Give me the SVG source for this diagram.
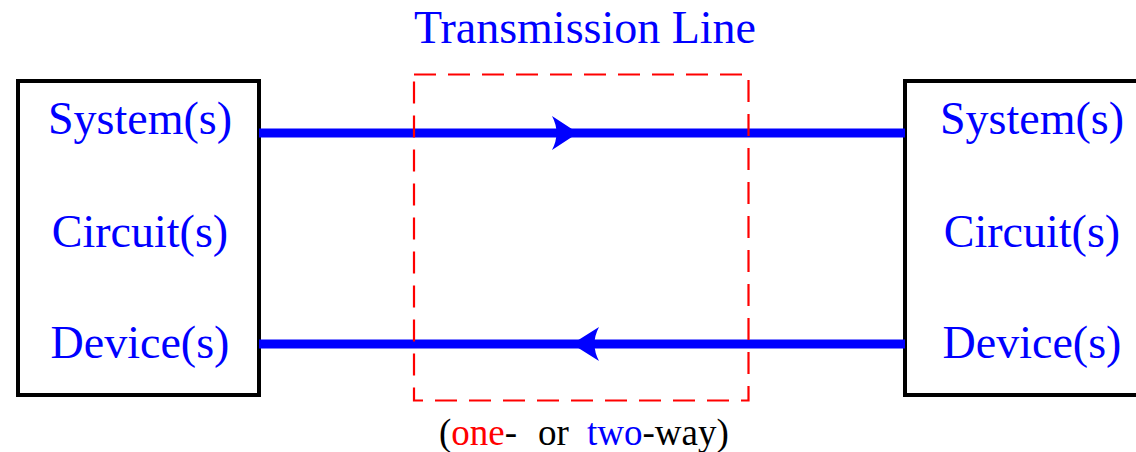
<svg xmlns="http://www.w3.org/2000/svg" width="1136" height="452" viewBox="0 0 1136 452">
<style>
.box{fill:#fff;stroke:#000;stroke-width:4}
.lbl{font-family:"Liberation Serif","Times New Roman",serif;font-size:46px;fill:#0000ff;text-anchor:middle}
.wire{stroke:#0000ff;stroke-width:9;fill:none}
.arr{fill:#0000ff}
.tl{fill:none;stroke:#ff0000;stroke-width:2.2;stroke-dasharray:22 12}
.note{font-family:"Liberation Serif","Times New Roman",serif;font-size:37px;fill:#000}
</style>
<rect width="1136" height="452" fill="#fff"/>
<g id="left-node">
<rect class="box" x="18" y="81" width="241" height="314"/>
<text class="lbl" x="140" y="134">System(s)</text>
<text class="lbl" x="140" y="247">Circuit(s)</text>
<text class="lbl" x="140" y="358">Device(s)</text>
</g>
<g id="right-node">
<rect class="box" x="905" y="81" width="260" height="314"/>
<text class="lbl" x="1032" y="134">System(s)</text>
<text class="lbl" x="1032" y="247">Circuit(s)</text>
<text class="lbl" x="1032" y="358">Device(s)</text>
</g>
<g id="connectors">
<line class="wire" x1="259" y1="133" x2="905" y2="133"/>
<path class="arr" d="M578,133 L552,116 Q561,133 552,150 Z"/>
<line class="wire" x1="259" y1="344" x2="905" y2="344"/>
<path class="arr" d="M572,344 L599,327 Q590,344 599,361 Z"/>
</g>
<g id="transmission-line">
<rect class="tl" x="414" y="74.5" width="334.5" height="326"/>
<text class="lbl" x="585" y="43">Transmission Line</text>
<text class="note" y="445"><tspan x="439">(</tspan><tspan x="451.3" fill="#ff0000">one</tspan><tspan>-</tspan><tspan x="538">or</tspan><tspan x="587" fill="#0000ff">two</tspan><tspan>-way)</tspan></text>
</g>
</svg>
